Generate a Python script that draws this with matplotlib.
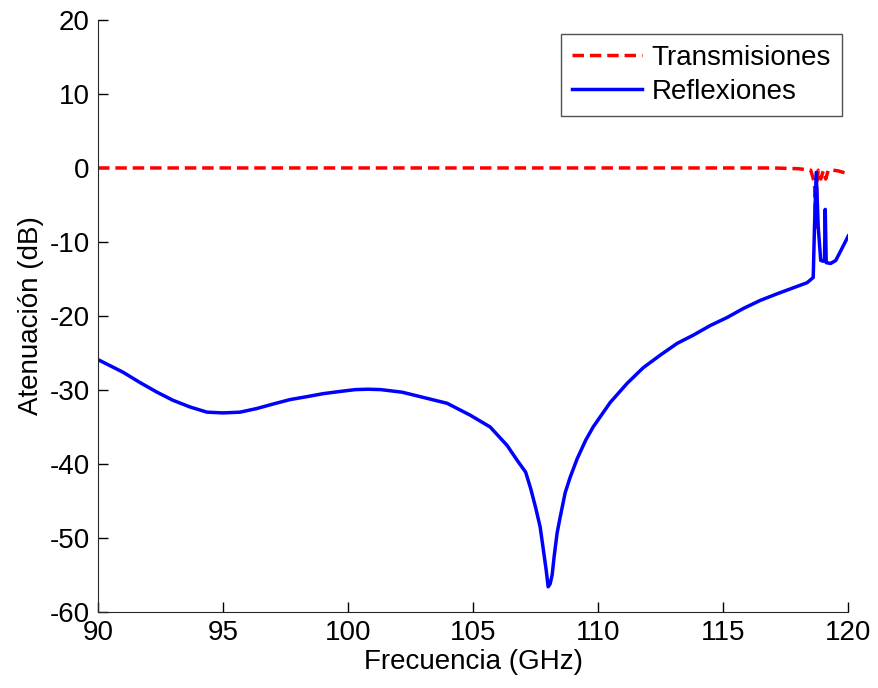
import matplotlib
matplotlib.use("Agg")
import matplotlib.pyplot as plt

plt.rcParams['font.family'] = ['Liberation Sans', 'DejaVu Sans']
plt.rcParams['axes.unicode_minus'] = False

# Reflection response (dB) vs frequency (GHz)
freq_refl = [90.0, 91.0, 91.68, 92.36, 93.0, 93.68, 94.36, 95.0, 95.68, 96.36,
             97.0, 97.68, 98.36, 99.0, 99.68, 100.3, 100.8, 101.3, 102.16,
             103.0, 103.96, 104.88, 105.68, 106.36, 106.76, 107.1, 107.3,
             107.5, 107.68, 107.8, 107.92, 108.0, 108.08, 108.16, 108.24,
             108.36, 108.48, 108.68, 108.88, 109.16, 109.5, 109.8, 110.48,
             111.16, 111.8, 112.48, 113.16, 113.8, 114.48, 115.16, 115.8,
             116.48, 117.16, 117.8, 118.36, 118.6, 118.65, 118.72, 118.8,
             118.9, 119.0, 119.05, 119.08, 119.12, 119.3, 119.5, 119.7,
             119.85, 120.0]
refl_db = [-25.9, -27.6, -29.0, -30.3, -31.4, -32.3, -33.0, -33.1, -33.0, -32.5,
           -31.9, -31.3, -30.9, -30.5, -30.2, -29.95, -29.9, -29.95, -30.3,
           -31.0, -31.8, -33.4, -35.0, -37.5, -39.5, -41.1, -43.3,
           -45.9, -48.5, -51.4, -54.3, -56.6, -56.2, -55.0, -52.5,
           -49.3, -47.2, -43.9, -41.8, -39.3, -36.8, -35.0, -31.7,
           -29.1, -27.0, -25.3, -23.7, -22.6, -21.3, -20.2, -19.0,
           -17.9, -17.0, -16.2, -15.5, -14.8, -8.0, -0.6, -8.0,
           -12.5, -12.6, -12.5, -5.6, -12.8, -12.9, -12.5, -11.2,
           -10.2, -9.2]

# Transmission response (dB) vs frequency (GHz)
freq_trans = [90.0, 100.0, 110.0, 117.0, 117.5, 118.0, 118.5, 118.65, 118.7,
              118.75, 118.8, 118.9, 119.0, 119.1, 119.2, 119.4, 119.6, 119.8, 120.0]
trans_db = [0.0, 0.0, 0.0, 0.0, -0.05, -0.1, -0.3, -2.0, -8.0,
            -2.0, -0.3, -1.5, -0.4, -1.5, -0.3, -0.3, -0.4, -0.6, -0.8]

y_ticks = [-60, -50, -40, -30, -20, -10, 0, 10, 20]
x_ticks = [90, 95, 100, 105, 110, 115, 120]

fig = plt.figure(figsize=(8.79, 6.88), dpi=100)
ax = fig.add_axes([0.1115, 0.1105, 0.8535, 0.8605])

ax.plot(freq_trans, trans_db, color='#ff0000', linestyle='--', dashes=(3.3, 1.7),
        linewidth=2.5, label='Transmisiones')
ax.plot(freq_refl, refl_db, color='#0000ff', linestyle='-', linewidth=2.5,
        label='Reflexiones')

ax.set_xlim(90, 120)
ax.set_ylim(-60, 20)
ax.set_xticks(x_ticks)
ax.set_yticks(y_ticks)

ax.spines['top'].set_visible(False)
ax.spines['right'].set_visible(False)
ax.spines['left'].set_color('#262626')
ax.spines['bottom'].set_color('#262626')
ax.tick_params(direction='in', length=7, width=1, labelsize=20, pad=6,
               colors='black')

ax.set_xlabel('Frecuencia (GHz)', fontsize=20, labelpad=2)
ax.set_ylabel('Atenuación (dB)', fontsize=20, labelpad=4)

leg = ax.legend(loc='upper right', fontsize=20, frameon=True, fancybox=False,
                handlelength=2.5, borderpad=0.4, labelspacing=0.3,
                handletextpad=0.35, borderaxespad=0.0,
                bbox_to_anchor=(0.9915, 0.977))
leg.get_frame().set_edgecolor('#262626')
leg.get_frame().set_linewidth(1.0)

fig.savefig('out.png', dpi=100)
